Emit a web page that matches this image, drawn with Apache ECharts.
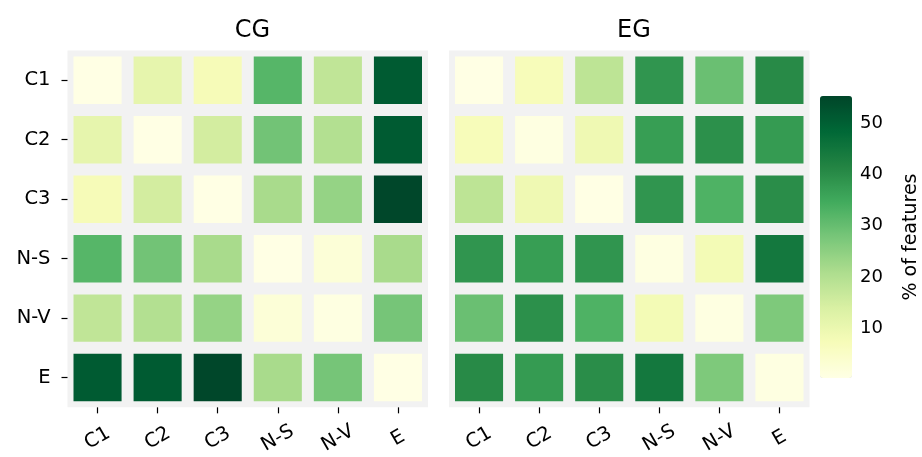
<!DOCTYPE html>
<html>
<head>
<meta charset="utf-8">
<script src="https://cdn.jsdelivr.net/npm/echarts@6/dist/echarts.min.js"></script>
<style>html,body{margin:0;padding:0;background:#fff}#c{width:922px;height:457px}</style>
</head>
<body>
<div id="c"></div>
<script>
const categories = ['C1', 'C2', 'C3', 'N-S', 'N-V', 'E'];
const panelTitles = ['CG', 'EG'];
// rows follow categories (top to bottom), columns follow categories (left to right)
const cgValues = [
  [0.5, 11, 7.5, 32, 18, 51],
  [11, 0.5, 15, 28.5, 20, 51],
  [7.5, 15, 0.5, 21.5, 24, 55],
  [32, 28.5, 21.5, 0.5, 2.5, 21.5],
  [18, 20, 24, 2.5, 1, 28],
  [51, 51, 55, 21.5, 28, 0.5]
];
const egValues = [
  [0.5, 7, 18.5, 38.5, 29.5, 40.5],
  [7, 1, 9, 37, 39.5, 37.5],
  [18.5, 9, 0.5, 38.5, 33, 40],
  [38.5, 37, 38.5, 1, 8, 44.5],
  [29.5, 39.5, 33, 8, 1, 27],
  [40.5, 37.5, 40, 44.5, 27, 1]
];
const colorbarTicks = [10, 20, 30, 40, 50];
const colorMin = 0.3, colorMax = 55.3;
const colorbarLabel = '% of features';
const ylGn = ['#ffffe5','#f7fcb9','#d9f0a3','#addd8e','#78c679','#41ab5d','#238443','#006837','#004529'];

const FONT = 'DejaVu Sans';
function toData(m) {
  const out = [];
  m.forEach((row, r) => row.forEach((v, c) => out.push([c, r, v])));
  return out;
}
function renderCell(params, api) {
  const p = api.coord([api.value(0), api.value(1)]);
  const s = api.size([1, 1]);
  const g = 6;
  return {
    type: 'rect',
    shape: { x: p[0] - s[0] / 2 + g, y: p[1] - s[1] / 2 + g, width: s[0] - 2 * g, height: s[1] - 2 * g },
    style: { fill: api.visual('color') }
  };
}
const panelLeft = [67.5, 449];
const grids = panelLeft.map(l => ({
  left: l, top: 50.5, width: 360.5, height: 361,
  show: true, backgroundColor: '#f2f2f2', borderWidth: 0
}));
grids.push({ left: 820, top: 96, width: 32, height: 282, show: false });

const xAxes = [0, 1].map(i => ({
  type: 'category', gridIndex: i, data: categories, position: 'bottom',
  axisLine: { show: false }, splitLine: { show: false },
  axisTick: { show: true, alignWithLabel: true, length: 6, lineStyle: { color: '#000', width: 1.2 } },
  axisLabel: { rotate: 30, align: 'center', verticalAlign: 'middle', margin: 31, fontSize: 19.5, color: '#000', fontFamily: FONT }
}));
xAxes.push({ type: 'value', gridIndex: 2, show: false });

const yAxes = [0, 1].map(i => ({
  type: 'category', gridIndex: i, data: categories, inverse: true,
  axisLine: { show: false }, splitLine: { show: false },
  axisTick: { show: i === 0, alignWithLabel: true, length: 6, lineStyle: { color: '#000', width: 1.2 } },
  axisLabel: { show: i === 0, margin: 17, fontSize: 19.5, color: '#000', fontFamily: FONT }
}));
yAxes.push({
  type: 'value', gridIndex: 2, position: 'right', min: colorMin, max: colorMax,
  axisLine: { show: false }, splitLine: { show: false },
  axisTick: { show: true, customValues: colorbarTicks, length: 6, lineStyle: { color: '#000', width: 1.2 } },
  axisLabel: { customValues: colorbarTicks, margin: 16, fontSize: 18, color: '#000', fontFamily: FONT },
  name: colorbarLabel, nameLocation: 'middle', nameRotate: 90, nameGap: 58,
  nameTextStyle: { fontSize: 19, color: '#000', fontFamily: FONT }
});

const chart = echarts.init(document.getElementById('c'), null, { renderer: 'canvas' });
chart.setOption({
  animation: false,
  backgroundColor: '#fff',
  title: panelTitles.map((t, i) => ({
    text: t, left: panelLeft[i] + 180, top: 14, textAlign: 'center',
    textStyle: { fontSize: 24, fontWeight: 'normal', color: '#000', fontFamily: FONT }
  })),
  grid: grids,
  xAxis: xAxes,
  yAxis: yAxes,
  visualMap: {
    type: 'continuous', min: colorMin, max: colorMax, dimension: 2, seriesIndex: [0, 1],
    orient: 'vertical', left: 820, top: 96, itemWidth: 32, itemHeight: 282,
    padding: 0, calculable: false, text: null, showLabel: false,
    inRange: { color: ylGn }
  },
  series: [cgValues, egValues].map((m, i) => ({
    type: 'custom', coordinateSystem: 'cartesian2d', xAxisIndex: i, yAxisIndex: i,
    data: toData(m), encode: { x: 0, y: 1 }, renderItem: renderCell
  }))
});
</script>
</body>
</html>
